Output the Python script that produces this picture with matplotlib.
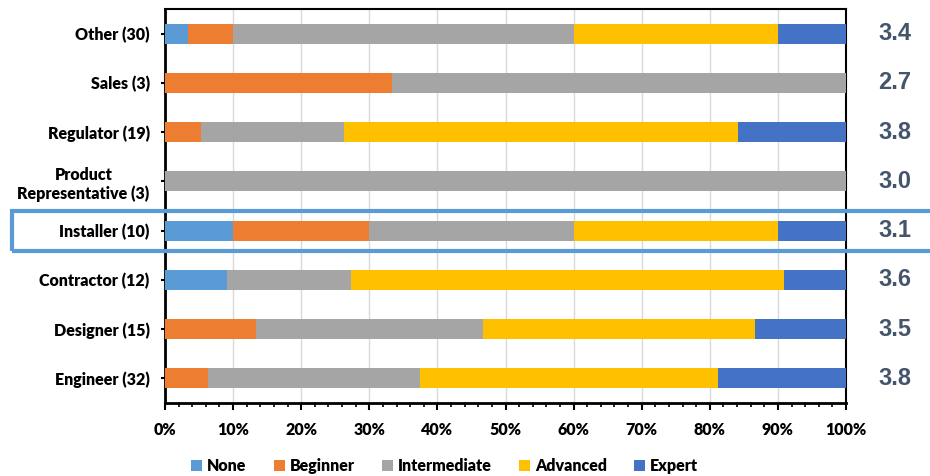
import numpy as np
import matplotlib as mpl
mpl.use('Agg')
import matplotlib.pyplot as plt
from matplotlib.patches import Rectangle
from matplotlib.ticker import MultipleLocator, PercentFormatter

mpl.rcParams['font.family'] = ['Lato', 'DejaVu Sans']
mpl.rcParams['font.weight'] = 'bold'

# bottom to top
roles = ['Engineer (32)', 'Designer (15)', 'Contractor (12)', 'Installer (10)',
         'Product\nRepresentative (3)', 'Regulator (19)', 'Sales (3)', 'Other (30)']
levels = ['None', 'Beginner', 'Intermediate', 'Advanced', 'Expert']
none_pct = [0, 0, 9.09, 10, 0, 0, 0, 3.33]
beginner_pct = [6.25, 13.33, 0, 20, 0, 5.26, 33.33, 6.67]
intermediate_pct = [31.25, 33.33, 18.18, 30, 100, 21.05, 66.67, 50]
advanced_pct = [43.75, 40.0, 63.64, 30, 0, 57.89, 0, 30]
expert_pct = [18.75, 13.33, 9.09, 10, 0, 15.79, 0, 10]
avg_score = ['3.8', '3.5', '3.6', '3.1', '3.0', '3.8', '2.7', '3.4']

colors = ['#5B9BD5', '#ED7D31', '#A5A5A5', '#FFC000', '#4472C4']
series = [none_pct, beginner_pct, intermediate_pct, advanced_pct, expert_pct]

fig = plt.figure(figsize=(9.3, 4.76), dpi=100)
ax = fig.add_axes([0.1774, 0.1534, 0.7323, 0.8276])

y = np.arange(len(roles))
left = np.zeros(len(roles))
for vals, c, name in zip(series, colors, levels):
    ax.barh(y, vals, left=left, height=0.41, color=c, label=name, zorder=3)
    left += np.array(vals)

ax.set_xlim(0, 100)
ax.set_ylim(-0.5, len(roles) - 0.5)
ax.xaxis.set_major_locator(MultipleLocator(10))
ax.xaxis.set_minor_locator(MultipleLocator(2))
ax.xaxis.set_major_formatter(PercentFormatter(decimals=0))
ax.set_yticks(y)
ax.set_yticklabels(roles, fontsize=11.5, fontweight='heavy', multialignment='center')
for lab in ax.get_xticklabels():
    lab.set_fontweight('heavy')
ax.tick_params(axis='x', which='major', direction='out', length=5, width=1.5, labelsize=11.5, pad=9)
ax.tick_params(axis='x', which='minor', direction='out', length=3, width=1.2)
ax.tick_params(axis='y', direction='inout', length=6, width=1.5, pad=8)
ax.grid(axis='x', which='major', color='#D9D9D9', linewidth=1, zorder=0)

for s in ['left', 'bottom']:
    ax.spines[s].set_linewidth(2)
for s in ['top', 'right']:
    ax.spines[s].set_linewidth(1.5)

for yi, txt in zip(y, avg_score):
    ax.text(1.072, yi, txt, transform=ax.get_yaxis_transform(), ha='center', va='center',
            fontsize=17, fontweight='bold', color='#44546A', family='Liberation Sans')

# highlight box around installer row
fig.patches.append(Rectangle((12 / 930, 1 - 251 / 476), 1.0, 40 / 476,
                             transform=fig.transFigure, fill=False,
                             edgecolor='#5B9BD5', linewidth=3, zorder=10))

leg = ax.legend(loc='lower center', ncol=5, frameon=False, fontsize=11.5,
                handlelength=0.7, handleheight=0.7, handletextpad=0.3, columnspacing=1.7,
                prop={'weight': 'heavy', 'size': 11.5})
leg.set_bbox_to_anchor((0.478, -0.027), transform=fig.transFigure)

fig.savefig('out.png', dpi=100)
